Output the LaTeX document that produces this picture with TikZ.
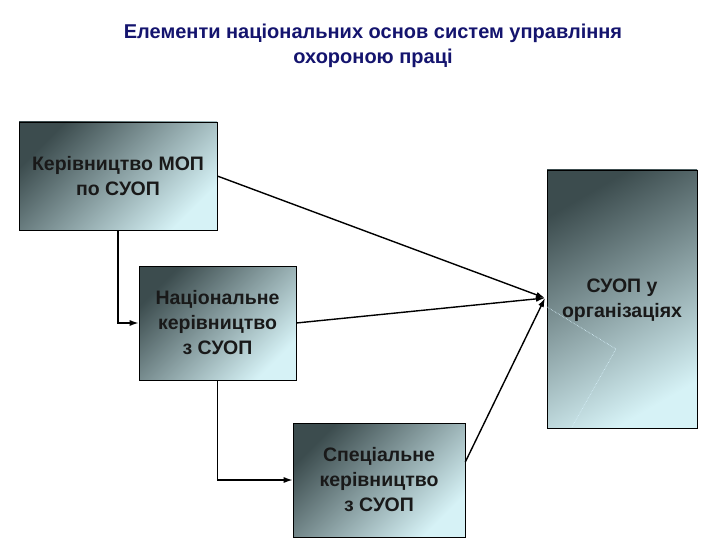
\documentclass[tikz,border=0pt]{standalone}
\usepackage{fontspec}
\setmainfont{Liberation Sans}
\usetikzlibrary{arrows.meta}

\definecolor{boxdark}{RGB}{60,76,78}
\definecolor{boxlight}{RGB}{214,242,246}
\definecolor{titleblue}{RGB}{20,20,110}

\tikzset{
    levelbox/.style={draw=black, line width=0.6pt, top color=boxdark, bottom color=boxlight,
        shading angle=45, align=center, font=\bfseries\fontsize{19.5}{25}\selectfont,
        text=black!90, inner sep=0pt},
    link/.style={line width=1.4pt, -{Latex[length=9pt,width=6pt]}}
}

\begin{document}
\begin{tikzpicture}[x=1pt,y=-1pt]
        \useasboundingbox (0,0) rectangle (720,540);
        \node [font=\bfseries\fontsize{20}{25}\selectfont, text=titleblue, align=center] (title) at (373,46)
            {Елементи національних основ систем управління\\охороною праці};
        \node [levelbox, minimum width=198pt, minimum height=108pt] (ilo) at (118,176)
            {Керівництво МОП\\по СУОП};
        \node [levelbox, minimum width=157pt, minimum height=114pt] (nat) at (217.5,323)
            {Національне\\керівництво\\з СУОП};
        \node [levelbox, minimum width=172pt, minimum height=114pt] (spec) at (379,480)
            {Спеціальне\\керівництво\\з СУОП};
        \node [levelbox, minimum width=150pt, minimum height=258pt, shading angle=30] (org) at (622,299) {};
        \node [font=\bfseries\fontsize{19.5}{25}\selectfont, text=black!90, align=center] (orgtext) at (622,300)
            {СУОП у\\організаціях};
        \coordinate (tip) at (545,298);
        \coordinate (specout) at ([yshift=18pt]spec.east);
        \draw [white!85!cyan, densely dotted, line width=0.6pt] (547,307) -- (616,349) -- (572,427);
        % connectors
        \draw [link] (ilo.east) -- (tip);
        \draw [link] (nat.east) -- (tip);
        \draw [link] (specout) -- (tip);
        \draw [link] (ilo.south) |- (nat.west);
        \draw [link] (nat.south) |- (spec.west);
    \end{tikzpicture}
\end{document}
